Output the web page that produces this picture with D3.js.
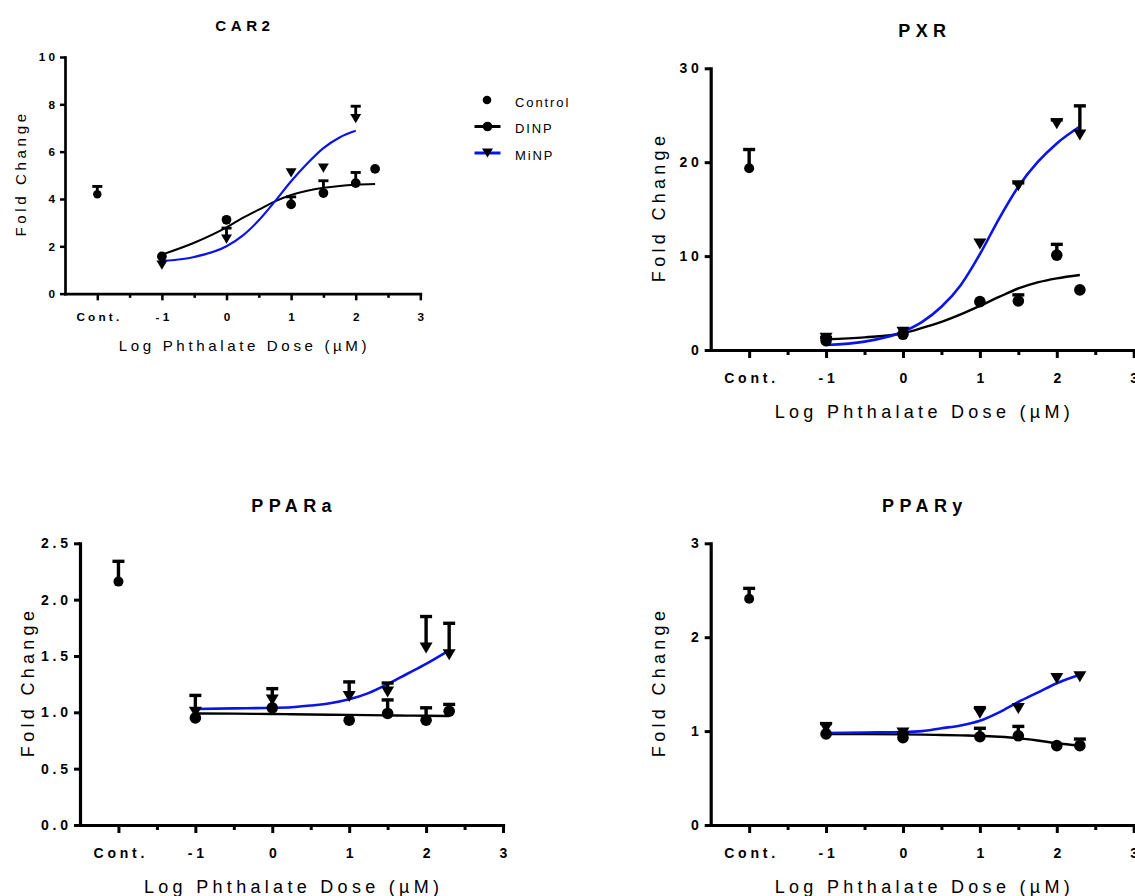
<!DOCTYPE html>
<html>
<head>
<meta charset="utf-8">
<script src="https://cdn.jsdelivr.net/npm/d3@7"></script>
<style>
  body { margin: 0; background: #fff; }
  svg { display: block; }
  text { font-family: "Liberation Sans", Arial, sans-serif; fill: #000; }
</style>
</head>
<body>
<svg id="chart" width="1135" height="896"></svg>
<script>
// shared x values (log dose, uM); the control group sits at -2 ("Cont.")
var doses = [-1, 0, 1, 1.5, 2, 2.3];
var fitX = [-1, -0.5, 0, 0.25, 0.5, 0.75, 1, 1.25, 1.5, 1.75, 2, 2.3];
var controlX = -2;
var xTickVals = [-2, -1, 0, 1, 2, 3];
var xTickLabels = ["Cont.", "-1", "0", "1", "2", "3"];
var xMinorVals = [-1.5, -0.5, 0.5, 1.5, 2.5];
var legendNames = ["Control", "DINP", "MiNP"];

// CAR2
var car2Control = 4.2, car2ControlErr = 0.33;
var car2Dinp = [1.57, 3.12, 3.77, 4.25, 4.67, 5.27];
var car2DinpErr = [0, 0, 0.32, 0.52, 0.45, 0];
var car2Minp = [1.2, 2.3, 5.1, 5.3, 7.4, null];
var car2MinpErr = [0, 0.47, 0, 0, 0.52, 0];
var car2DinpFit = [1.65, 2.15, 2.8, 3.2, 3.55, 3.9, 4.17, 4.35, 4.47, 4.55, 4.6, 4.63];
var car2MinpFit = [1.38, 1.55, 2.0, 2.45, 3.1, 3.9, 4.75, 5.5, 6.15, 6.6, 6.88, null];
var car2YTicks = [0, 2, 4, 6, 8, 10];

// PXR
var pxrControl = 19.35, pxrControlErr = 2.0;
var pxrDinp = [1.0, 1.67, 5.15, 5.22, 10.1, 6.4];
var pxrDinpErr = [0, 0, 0, 0.65, 1.15, 0];
var pxrMinp = [1.25, 1.9, 11.3, 17.5, 24.1, 22.9];
var pxrMinpErr = [0.1, 0, 0, 0.3, 0.4, 3.1];
var pxrDinpFit = [1.14, 1.35, 1.78, 2.35, 3.0, 3.8, 4.7, 5.65, 6.55, 7.2, 7.63, 7.99];
var pxrMinpFit = [0.53, 0.89, 1.95, 3.0, 4.6, 6.9, 10.2, 14.0, 17.4, 20.0, 22.0, 23.8];
var pxrYTicks = [0, 10, 20, 30];

// PPARa
var pparaControl = 2.16, pparaControlErr = 0.18;
var pparaDinp = [0.95, 1.04, 0.93, 0.99, 0.93, 1.01];
var pparaDinpErr = [0, 0, 0, 0.12, 0.11, 0.06];
var pparaMinp = [1.0, 1.11, 1.14, 1.18, 1.57, 1.51];
var pparaMinpErr = [0.15, 0.1, 0.13, 0.08, 0.28, 0.28];
var pparaDinpFit = [0.99, 0.988, 0.985, 0.983, 0.981, 0.979, 0.977, 0.975, 0.973, 0.971, 0.969, 0.967];
var pparaMinpFit = [1.03, 1.035, 1.04, 1.045, 1.06, 1.08, 1.115, 1.17, 1.25, 1.34, 1.43, 1.55];
var pparaYTicks = [0, 0.5, 1, 1.5, 2, 2.5];

// PPARy
var ppargControl = 2.41, ppargControlErr = 0.11;
var ppargDinp = [0.97, 0.93, 0.94, 0.95, 0.845, 0.845];
var ppargDinpErr = [0.11, 0.05, 0.09, 0.1, 0, 0.07];
var ppargMinp = [1.03, 0.98, 1.19, 1.24, 1.56, 1.58];
var ppargMinpErr = [0, 0, 0.06, 0, 0, 0];
var ppargDinpFit = [0.97, 0.968, 0.965, 0.962, 0.958, 0.954, 0.95, 0.94, 0.925, 0.9, 0.87, 0.845];
var ppargMinpFit = [0.98, 0.985, 0.99, 1.0, 1.03, 1.06, 1.11, 1.2, 1.31, 1.41, 1.51, 1.6];
var ppargYTicks = [0, 1, 2, 3];

var svg = d3.select("#chart");
var BASE_W = 423, BASE_H = 281.7;

function drawPanel(o) {
  var k = o.k;
  var w = BASE_W * k, h = BASE_H * k;
  var g = svg.append("g").attr("transform", "translate(" + o.left + "," + o.top + ")");

  var x = d3.scaleLinear().domain([-2.5, 3]).range([0, w]);
  var y = d3.scaleLinear().domain([0, o.yTicks[o.yTicks.length - 1]]).range([h, 0]);

  var tickLs = 3.8 * k;

  // minor x ticks
  g.append("g")
    .attr("transform", "translate(0," + h + ")")
    .call(d3.axisBottom(x).tickValues(xMinorVals).tickSize(5 * k).tickFormat("").tickSizeOuter(0))
    .call(function(a) { a.select(".domain").remove(); });

  // major x ticks + labels
  var xa = g.append("g")
    .attr("transform", "translate(0," + h + ")")
    .call(d3.axisBottom(x).tickValues(xTickVals).tickSize(8 * k).tickPadding(14.7 * k)
      .tickSizeOuter(0)
      .tickFormat(function(d, i) { return xTickLabels[i]; }));
  xa.selectAll("text")
    .attr("dx", tickLs / 2)
    .style("font-size", (14 * k) + "px")
    .style("font-weight", "bold")
    .style("letter-spacing", tickLs + "px");

  var ya = g.append("g")
    .call(d3.axisLeft(y).tickValues(o.yTicks).tickSize(6 * k).tickPadding(5.9 * k)
      .tickSizeOuter(0)
      .tickFormat(o.fmt));
  ya.selectAll("text")
    .attr("dx", tickLs)
    .style("font-size", (14 * k) + "px")
    .style("font-weight", "bold")
    .style("letter-spacing", tickLs + "px");

  g.selectAll(".domain").attr("stroke-width", 3.2 * k).attr("stroke-linecap", "square");
  g.selectAll(".tick line").attr("stroke-width", 3 * k);

  // titles
  g.append("text")
    .attr("x", w / 2 + 2.7 * k).attr("y", -31 * k)
    .attr("text-anchor", "middle")
    .style("font-size", (18 * k) + "px")
    .style("font-weight", "bold")
    .style("letter-spacing", (5.4 * k) + "px")
    .text(o.title);

  g.append("text")
    .attr("x", w / 2 + 2.2 * k).attr("y", h + 68 * k)
    .attr("text-anchor", "middle")
    .style("font-size", (18 * k) + "px")
    .style("letter-spacing", (4.3 * k) + "px")
    .text("Log Phthalate Dose (\u00b5M)");

  g.append("text")
    .attr("transform", "translate(" + (-46 * k) + "," + (h / 2) + ") rotate(-90)")
    .attr("text-anchor", "middle")
    .attr("dx", 2.2 * k)
    .style("font-size", (18 * k) + "px")
    .style("letter-spacing", (4.3 * k) + "px")
    .text("Fold Change");

  // fitted curves
  var line = d3.line()
    .defined(function(d) { return d[1] != null; })
    .x(function(d) { return x(d[0]); })
    .y(function(d) { return y(d[1]); })
    .curve(d3.curveMonotoneX);

  g.append("path")
    .datum(d3.zip(fitX, o.dinpFit))
    .attr("d", line)
    .attr("fill", "none").attr("stroke", "#000").attr("stroke-width", 2.4 * k);
  g.append("path")
    .datum(d3.zip(fitX, o.minpFit))
    .attr("d", line)
    .attr("fill", "none").attr("stroke", "#0a14e6").attr("stroke-width", 2.6 * k);

  // error bars (upper only)
  var bars = [{ x: controlX, v: o.control, e: o.controlErr }];
  doses.forEach(function(d, i) {
    if (o.dinp[i] != null) bars.push({ x: d, v: o.dinp[i], e: o.dinpErr[i] });
    if (o.minp[i] != null) bars.push({ x: d, v: o.minp[i], e: o.minpErr[i] });
  });
  bars = bars.filter(function(b) { return b.e > 0; });
  var eb = g.append("g").attr("stroke", "#000").attr("stroke-width", 3.4 * k);
  eb.selectAll("line.v").data(bars).enter().append("line")
    .attr("x1", function(b) { return x(b.x); }).attr("x2", function(b) { return x(b.x); })
    .attr("y1", function(b) { return y(b.v); }).attr("y2", function(b) { return y(b.v + b.e); });
  eb.selectAll("line.c").data(bars).enter().append("line")
    .attr("x1", function(b) { return x(b.x) - 6 * k; }).attr("x2", function(b) { return x(b.x) + 6 * k; })
    .attr("y1", function(b) { return y(b.v + b.e); }).attr("y2", function(b) { return y(b.v + b.e); });

  // markers
  g.append("circle")
    .attr("cx", x(controlX)).attr("cy", y(o.control)).attr("r", 5 * k).attr("fill", "#000");

  var dinpPts = doses.map(function(d, i) { return [d, o.dinp[i]]; }).filter(function(p) { return p[1] != null; });
  g.selectAll("circle.dinp").data(dinpPts).enter().append("circle")
    .attr("cx", function(p) { return x(p[0]); })
    .attr("cy", function(p) { return y(p[1]); })
    .attr("r", 5.8 * k).attr("fill", "#000");

  var minpPts = doses.map(function(d, i) { return [d, o.minp[i]]; }).filter(function(p) { return p[1] != null; });
  var tri = "M" + (-6.5 * k) + "," + (-5.5 * k) + "L" + (6.5 * k) + "," + (-5.5 * k) + "L0," + (5.5 * k) + "Z";
  g.selectAll("path.minp").data(minpPts).enter().append("path")
    .attr("transform", function(p) { return "translate(" + x(p[0]) + "," + y(p[1]) + ")"; })
    .attr("d", tri).attr("fill", "#000");

  return g;
}

drawPanel({ title: "CAR2", left: 65, top: 57, k: 0.84, yTicks: car2YTicks, fmt: d3.format("d"),
  control: car2Control, controlErr: car2ControlErr,
  dinp: car2Dinp, dinpErr: car2DinpErr, minp: car2Minp, minpErr: car2MinpErr,
  dinpFit: car2DinpFit, minpFit: car2MinpFit });

drawPanel({ title: "PXR", left: 710.7, top: 68.3, k: 1, yTicks: pxrYTicks, fmt: d3.format("d"),
  control: pxrControl, controlErr: pxrControlErr,
  dinp: pxrDinp, dinpErr: pxrDinpErr, minp: pxrMinp, minpErr: pxrMinpErr,
  dinpFit: pxrDinpFit, minpFit: pxrMinpFit });

drawPanel({ title: "PPARa", left: 80, top: 543.3, k: 1, yTicks: pparaYTicks, fmt: d3.format(".1f"),
  control: pparaControl, controlErr: pparaControlErr,
  dinp: pparaDinp, dinpErr: pparaDinpErr, minp: pparaMinp, minpErr: pparaMinpErr,
  dinpFit: pparaDinpFit, minpFit: pparaMinpFit });

drawPanel({ title: "PPARy", left: 710.7, top: 543.3, k: 1, yTicks: ppargYTicks, fmt: d3.format("d"),
  control: ppargControl, controlErr: ppargControlErr,
  dinp: ppargDinp, dinpErr: ppargDinpErr, minp: ppargMinp, minpErr: ppargMinpErr,
  dinpFit: ppargDinpFit, minpFit: ppargMinpFit });

// legend (beside CAR2)
var lg = svg.append("g").attr("transform", "translate(487,100)");
var rowH = 26.5;
lg.append("circle").attr("cx", 0).attr("cy", 0).attr("r", 4.3).attr("fill", "#000");
lg.append("line").attr("x1", -12.5).attr("x2", 13.5).attr("y1", rowH).attr("y2", rowH)
  .attr("stroke", "#000").attr("stroke-width", 3);
lg.append("circle").attr("cx", 0.5).attr("cy", rowH).attr("r", 4.8).attr("fill", "#000");
lg.append("line").attr("x1", -12.5).attr("x2", 13.5).attr("y1", 2 * rowH).attr("y2", 2 * rowH)
  .attr("stroke", "#0a14e6").attr("stroke-width", 3);
lg.append("path")
  .attr("transform", "translate(0.5," + (2 * rowH) + ")")
  .attr("d", "M-5.5,-4.6L5.5,-4.6L0,4.6Z").attr("fill", "#000");
lg.selectAll("text.lab").data(legendNames).enter().append("text")
  .attr("x", 28).attr("y", function(d, i) { return i * rowH + 6.5; })
  .style("font-size", "13px")
  .style("letter-spacing", "1.9px")
  .text(function(d) { return d; });
</script>
</body>
</html>
